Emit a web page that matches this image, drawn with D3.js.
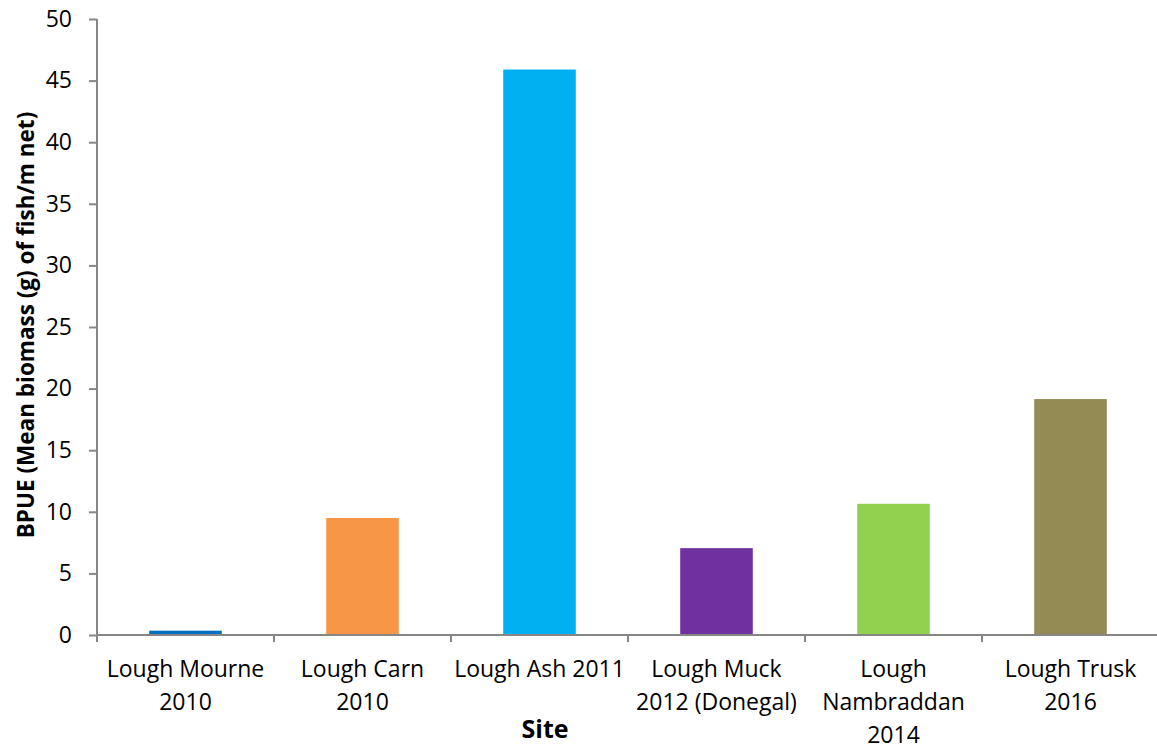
<!DOCTYPE html>
<html>
<head>
<meta charset="utf-8">
<script src="https://cdn.jsdelivr.net/npm/d3@7"></script>
<style>
  body { margin: 0; background: #fff; }
  svg { font-family: "Open Sans", sans-serif; }
</style>
</head>
<body>
<div id="chart"></div>
<script>
var sites = ["Lough Mourne 2010", "Lough Carn 2010", "Lough Ash 2011", "Lough Muck 2012 (Donegal)", "Lough Nambraddan 2014", "Lough Trusk 2016"];
var siteLines = [["Lough Mourne", "2010"], ["Lough Carn", "2010"], ["Lough Ash 2011"], ["Lough Muck", "2012 (Donegal)"], ["Lough", "Nambraddan", "2014"], ["Lough Trusk", "2016"]];
var bpue = [0.35, 9.5, 45.9, 7.05, 10.65, 19.15];
var barColors = ["#0070C0", "#F79646", "#00B0F0", "#7030A0", "#92D050", "#948A54"];
var yTicks = [0, 5, 10, 15, 20, 25, 30, 35, 40, 45, 50];

var width = 1157, height = 749;
var margin = {top: 19, right: -2, bottom: 114, left: 97};

var svg = d3.select("#chart").append("svg")
    .attr("width", width)
    .attr("height", height);

var x = d3.scaleBand()
    .domain(sites)
    .range([margin.left, width - margin.right])
    .paddingInner(0.59)
    .paddingOuter(0.295);

var y = d3.scaleLinear()
    .domain([0, 50])
    .range([height - margin.bottom, margin.top]);

// bars
svg.append("g").selectAll("rect")
    .data(bpue)
    .enter()
    .append("rect")
    .attr("x", function(d, i){ return x(sites[i]); })
    .attr("y", function(d){ return y(d); })
    .attr("width", x.bandwidth())
    .attr("height", function(d){ return y(0) - y(d); })
    .style("fill", function(d, i){ return barColors[i]; });

// y axis
var yAxis = svg.append("g")
    .attr("transform", "translate(" + margin.left + ",0)")
    .call(d3.axisLeft(y).tickValues(yTicks).tickSize(8).tickPadding(17));
yAxis.attr("font-family", null).attr("font-size", null);
yAxis.selectAll("text").style("font-size", "23px").style("fill", "#000");

// x axis with ticks on category boundaries
var step = x.step();
var xAxis = svg.append("g")
    .attr("transform", "translate(0," + y(0) + ")");
xAxis.append("line")
    .attr("x1", margin.left).attr("x2", width)
    .attr("stroke", "#868686").attr("stroke-width", 2);
xAxis.selectAll(".tk")
    .data(d3.range(sites.length + 1))
    .enter()
    .append("line")
    .attr("class", "tk")
    .attr("x1", function(i){ return margin.left + i * step; })
    .attr("x2", function(i){ return margin.left + i * step; })
    .attr("y1", 0).attr("y2", 7)
    .attr("stroke", "#868686").attr("stroke-width", 2);

yAxis.selectAll("path, line").attr("stroke", "#868686").attr("stroke-width", 2);
yAxis.select(".domain").attr("d", "M0," + y(50) + "V" + y(0));

// category labels
var labels = svg.append("g").selectAll("text")
    .data(sites)
    .enter()
    .append("text")
    .attr("text-anchor", "middle")
    .attr("x", function(d){ return x(d) + x.bandwidth() / 2; })
    .attr("y", y(0) + 42)
    .style("font-size", "23px")
    .style("fill", "#000");
labels.each(function(d, i){
    var t = d3.select(this);
    siteLines[i].forEach(function(line, j){
        t.append("tspan")
            .attr("x", t.attr("x"))
            .attr("dy", j === 0 ? 0 : 33)
            .text(line);
    });
});

// axis titles
svg.append("text")
    .attr("text-anchor", "middle")
    .attr("x", 545)
    .attr("y", 738)
    .style("font-size", "25px")
    .style("font-weight", "bold")
    .text("Site");

svg.append("text")
    .attr("text-anchor", "middle")
    .attr("transform", "translate(34,325) rotate(-90)")
    .style("font-size", "22.5px")
    .style("font-weight", "bold")
    .text("BPUE (Mean biomass (g) of fish/m net)");
</script>
</body>
</html>
